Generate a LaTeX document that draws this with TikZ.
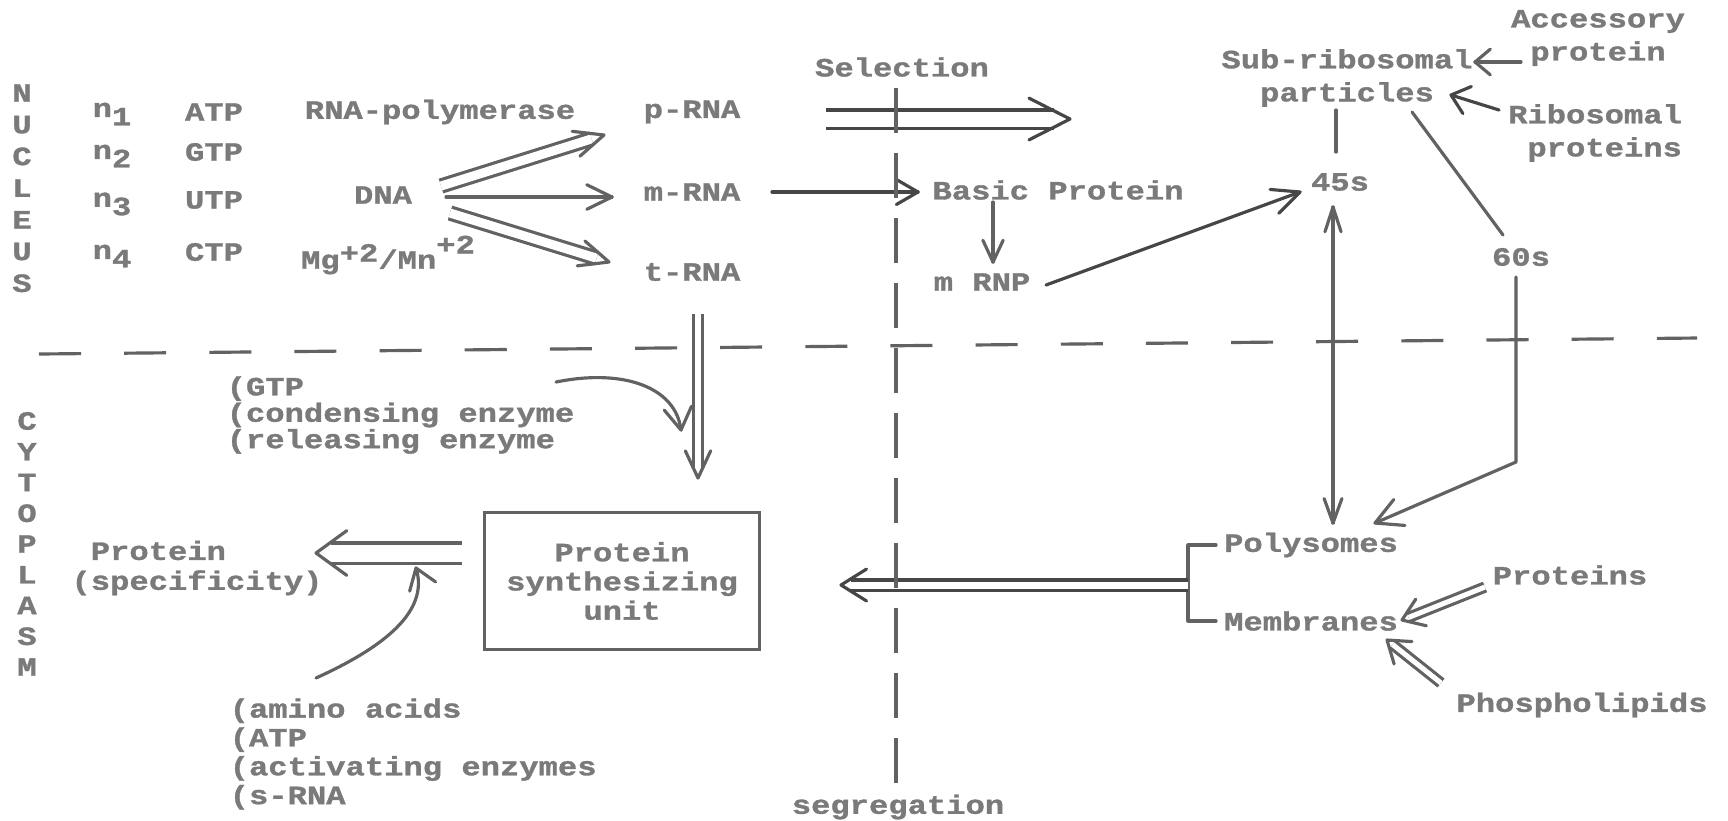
\documentclass[tikz,border=0pt]{standalone}
\usepackage{fontspec}
\newfontfamily\twfont[FakeStretch=1.22,FakeBold=1.2]{Liberation Mono}
\usetikzlibrary{calc}
\definecolor{txt}{RGB}{122,122,122}
\definecolor{ln}{RGB}{98,98,98}
\definecolor{dk}{RGB}{70,70,70}
\newcommand\barbhead[5][conn]{\draw[#1] ($(#3)!#4!#5:(#2)$) -- (#3) -- ($(#3)!#4!-#5:(#2)$);}
\begin{document}
\begin{tikzpicture}[x=0.01cm,y=-0.01cm,
  lbl/.style={font=\twfont\bfseries\fontsize{7.5}{8.3}\selectfont, text=txt, inner sep=0pt},
  conn/.style={draw=ln, line width=0.9pt, line cap=round, line join=round},
  dconn/.style={draw=ln, line width=0.9pt, line cap=butt, double=white, double distance=#1},
  dashline/.style={draw=ln, line width=0.9pt}]
\useasboundingbox[fill=white] (0,0) rectangle (1728,820);

% side labels
\foreach \l [count=\i] in {N,U,C,L,E,U,S}
  \node[lbl] (nuc\i) at (22,{93+(\i-1)*31.7}) {\l};
\foreach \l [count=\i] in {C,Y,T,O,P,L,A,S,M}
  \node[lbl] (cyt\i) at (27,{421+(\i-1)*30.75}) {\l};

% nucleus texts
\node[lbl] (n1) at (112,114) {n\raisebox{-0.6ex}{1}};
\node[lbl] (n2) at (112,156) {n\raisebox{-0.6ex}{2}};
\node[lbl] (n3) at (112,204) {n\raisebox{-0.6ex}{3}};
\node[lbl] (n4) at (112,256) {n\raisebox{-0.6ex}{4}};
\node[lbl] (atp) at (214,112) {ATP};
\node[lbl] (gtp) at (214,152) {GTP};
\node[lbl] (utp) at (214,200) {UTP};
\node[lbl] (ctp) at (214,252) {CTP};
\node[lbl] (pol) at (440,112) {RNA-polymerase};
\node[lbl] (dna) at (383,195) {DNA};
\node[lbl] (mg) at (388,255) {Mg\raisebox{0.5ex}{+2}/Mn\raisebox{1.1ex}{+2}};
\node[lbl] (prna) at (692,112) {p-RNA};
\node[lbl] (mrna) at (692,192) {m-RNA};
\node[lbl] (trna) at (692,272) {t-RNA};

\node[lbl] (sel) at (902,67) {Selection};
\node[lbl] (seg) at (898,807) {segregation};
\node[lbl] (basic) at (1058,190) {Basic Protein};
\node[lbl] (mrnp) at (982,282) {m RNP};
\node[lbl] (s45) at (1340,182) {45s};
\node[lbl, align=center, font=\twfont\bfseries\fontsize{7.5}{9.4}\selectfont] (sub) at (1347,78) {Sub-ribosomal\\particles};
\node[lbl, align=center, font=\twfont\bfseries\fontsize{7.5}{9.4}\selectfont] (acc) at (1598,38) {Accessory\\protein};
\node[lbl, align=right, font=\twfont\bfseries\fontsize{7.5}{9.4}\selectfont] (rib) at (1595,133) {Ribosomal\\proteins};
\node[lbl] (s60) at (1521,257) {60s};

% cytoplasm texts
\node[lbl] (poly) at (1311,545) {Polysomes};
\node[lbl] (memb) at (1311,621) {Membranes};
\node[lbl] (prots) at (1570,575) {Proteins};
\node[lbl] (phos) at (1582,705) {Phospholipids};
\node[lbl, draw=ln, line width=1pt, align=center, minimum width=2.75cm, minimum height=1.37cm] (box) at (622,581) {Protein\\synthesizing\\unit};
\node[lbl, align=left, font=\twfont\bfseries\fontsize{7.5}{8.5}\selectfont] (prot) at (197,568) {\hphantom{(}Protein\\(specificity)};
\node[lbl, align=left, anchor=west, font=\twfont\bfseries\fontsize{7.5}{7.5}\selectfont] (gtpl) at (226,415) {(GTP\\(condensing enzyme\\(releasing enzyme};
\node[lbl, align=left, anchor=west, font=\twfont\bfseries\fontsize{7.5}{8.2}\selectfont] (amino) at (229,754) {(amino acids\\(ATP\\(activating enzymes\\(s-RNA};

% coordinates
\coordinate (dP) at ($(dna.center)+(58,-9)$);
\coordinate (pT) at ($(prna.center)+(-88,23)$);
\coordinate (dM) at ($(dna.center)+(63,2)$);
\coordinate (mT) at ($(mrna.center)+(-80,5)$);
\coordinate (dT) at ($(dna.center)+(67,18)$);
\coordinate (tT) at ($(trna.center)+(-83,-10)$);
\coordinate (sA) at ($(sel.center)+(-76,52)$);
\coordinate (sT) at ($(sel.center)+(168,52)$);
\coordinate (mB) at ($(mrna.center)+(80,0)$);
\coordinate (bT) at ($(basic.center)+(-140,2)$);
\coordinate (bD) at ($(basic.center)+(-65,12)$);
\coordinate (rT) at ($(mrnp.center)+(11,-20)$);
\coordinate (rA) at ($(mrnp.center)+(64,3)$);
\coordinate (fT) at ($(s45.center)+(-40,10)$);
\coordinate (aA) at ($(acc.center)+(-77,24)$);
\coordinate (aT) at ($(sub.center)+(128,-16)$);
\coordinate (ribA) at ($(rib.center)+(-96,-23)$);
\coordinate (ribT) at ($(sub.center)+(104,17)$);
\coordinate (pa1) at ($(sub.center)+(-11,32)$);
\coordinate (pa2) at ($(s45.center)+(-4,-30)$);
\coordinate (pb1) at ($(sub.center)+(65,34)$);
\coordinate (pb2) at ($(s60.center)+(-18,-22)$);
\coordinate (q1) at ($(s45.center)+(-7,25)$);
\coordinate (q2) at ($(poly.center)+(22,-22)$);
\coordinate (c1) at ($(s60.center)+(-5,20)$);
\coordinate (c2) at ($(s60.center)+(-5,205)$);
\coordinate (c3) at ($(poly.center)+(64,-22)$);
\coordinate (br1) at ($(poly.center)+(-95,0)$);
\coordinate (br2) at ($(poly.center)+(-123,0)$);
\coordinate (br3) at ($(memb.center)+(-123,0)$);
\coordinate (br4) at ($(memb.center)+(-95,0)$);
\coordinate (br5) at ($(memb.center)+(-123,-36)$);
\coordinate (lT) at (841,585);
\coordinate (pr1) at ($(prots.center)+(-85,12)$);
\coordinate (prT) at ($(memb.center)+(91,-1)$);
\coordinate (ph1) at ($(phos.center)+(-141,-22)$);
\coordinate (phT) at ($(memb.center)+(76,19)$);
\coordinate (tv1) at ($(trna.center)+(6,42)$);
\coordinate (tv2) at ($(box.center)+(76,-103)$);
\coordinate (g1) at ($(trna.center)+(-136,110)$);
\coordinate (g2) at ($(trna.center)+(-11,158)$);
\coordinate (g2d) at (677,402);
\coordinate (bl1) at ($(box.center)+(-160,-28)$);
\coordinate (blT) at ($(prot.center)+(119,-15)$);
\coordinate (am1) at ($(prot.center)+(119,110)$);
\coordinate (amT) at ($(prot.center)+(219,0)$);
\coordinate (amd) at (426,596);
\coordinate (hl1) at (39,354);
\coordinate (hl2) at (1697,338);
\coordinate (vl1) at (896,88);
\coordinate (vl2) at (896,792);

% DNA arrows
\draw[dconn=0.09cm, shorten >=0.13cm] (dP) -- (pT);
\barbhead{dP}{pT}{0.32cm}{24}
\draw[conn] (dM) -- (mT);
\barbhead{dM}{mT}{0.28cm}{26}
\draw[dconn=0.09cm, shorten >=0.13cm] (dT) -- (tT);
\barbhead{dT}{tT}{0.32cm}{24}

% selection
\draw[dconn=0.15cm, shorten >=0.16cm, draw=dk] (sA) -- (sT);
\barbhead[conn,draw=dk]{sA}{sT}{0.46cm}{27}
\draw[conn, draw=dk] (mB) -- (bT);
\barbhead[conn,draw=dk]{mB}{bT}{0.25cm}{30}
\draw[conn] (bD) -- (rT);
\barbhead{bD}{rT}{0.24cm}{25}
\draw[conn, draw=dk] (rA) -- (fT);
\barbhead[conn,draw=dk]{rA}{fT}{0.3cm}{25}

% ribosomal part
\draw[conn] (aA) -- (aT);
\barbhead{aA}{aT}{0.2cm}{40}
\draw[conn, draw=dk] (ribA) -- (ribT);
\barbhead[conn,draw=dk]{ribA}{ribT}{0.22cm}{40}
\draw[conn] (pa1) -- (pa2);
\draw[conn] (pb1) -- (pb2);
\draw[conn] (q1) -- (q2);
\barbhead{q2}{q1}{0.26cm}{18}
\barbhead{q1}{q2}{0.26cm}{20}
\draw[conn] (c1) -- (c2) -- (c3);
\barbhead{c2}{c3}{0.3cm}{28}

% polysomes / membranes
\draw[conn] (br1) -- (br2) -- (br3) -- (br4);
\draw[dconn=0.07cm, shorten >=0.1cm, draw=dk] (br5) -- (lT);
\barbhead[conn,draw=dk]{br5}{lT}{0.3cm}{32}
\draw[dconn=0.05cm, shorten >=0.07cm] (pr1) -- (prT);
\barbhead{pr1}{prT}{0.25cm}{35}
\draw[dconn=0.05cm, shorten >=0.07cm] (ph1) -- (phT);
\barbhead{ph1}{phT}{0.25cm}{35}

% cytoplasm left
\draw[dconn=0.06cm, shorten >=0.11cm] (tv1) -- (tv2);
\barbhead{tv1}{tv2}{0.3cm}{25}
\draw[conn] (g1) .. controls (625,368) and (676,388) .. (g2);
\barbhead{g2d}{g2}{0.26cm}{32}
\draw[dconn=0.17cm, shorten >=0.15cm] (bl1) -- (blT);
\barbhead{bl1}{blT}{0.38cm}{36}
\draw[conn] (am1) .. controls (382,648) and (430,612) .. (amT);
\barbhead{amd}{amT}{0.24cm}{35}

% dashed separators
\draw[dashline, dash pattern=on 0.42cm off 0.431cm] (hl1) -- (hl2);
\draw[dashline, dash pattern=on 0.45cm off 0.2cm] (vl1) -- (vl2);
\end{tikzpicture}
\end{document}
